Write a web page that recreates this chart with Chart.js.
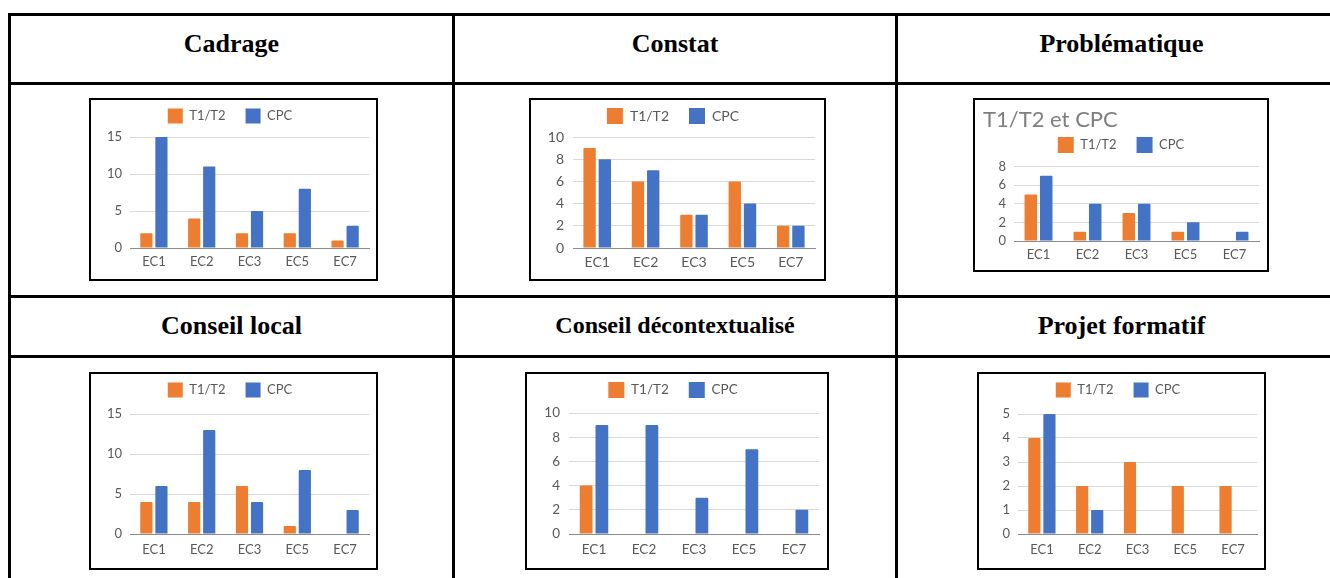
<!DOCTYPE html>
<html>
<head>
<meta charset="utf-8">
<script src="https://cdn.jsdelivr.net/npm/chart.js@4/dist/chart.umd.min.js"></script>
<style>
body{margin:0;background:#fff;width:1330px;height:578px;overflow:hidden;position:relative;font-family:"Liberation Serif",serif}
.ln{position:absolute;background:#000}
.hd{position:absolute;text-align:center;font-weight:bold;font-size:26px;line-height:30px;color:#000}
.box{position:absolute;border:2px solid #000}
.box canvas{display:block}
</style>
</head>
<body>
<!-- table lines -->
<div class="ln" style="left:8px;top:13px;width:3px;height:600px"></div>
<div class="ln" style="left:452px;top:13px;width:3px;height:600px"></div>
<div class="ln" style="left:895px;top:13px;width:3px;height:600px"></div>
<div class="ln" style="left:8px;top:13px;width:1340px;height:3px"></div>
<div class="ln" style="left:8px;top:82px;width:1340px;height:3px"></div>
<div class="ln" style="left:8px;top:295px;width:1340px;height:3px"></div>
<div class="ln" style="left:8px;top:355px;width:1340px;height:3px"></div>

<div class="hd" id="h0" style="left:11px;width:441px;top:29px"></div>
<div class="hd" id="h1" style="left:455px;width:440px;top:29px"></div>
<div class="hd" id="h2" style="left:898px;width:447px;top:29px"></div>
<div class="hd" id="h3" style="left:11px;width:441px;top:311px"></div>
<div class="hd" id="h4" style="left:455px;width:440px;top:310px;font-size:24px"></div>
<div class="hd" id="h5" style="left:898px;width:447px;top:311px"></div>

<div class="box" style="left:89px;top:98px"><canvas id="c0" width="285" height="179"></canvas></div>
<div class="box" style="left:529px;top:98px"><canvas id="c1" width="293" height="179"></canvas></div>
<div class="box" style="left:973px;top:98px"><canvas id="c2" width="292" height="170"></canvas></div>
<div class="box" style="left:89px;top:372px"><canvas id="c3" width="285" height="194"></canvas></div>
<div class="box" style="left:525px;top:372px"><canvas id="c4" width="300" height="194"></canvas></div>
<div class="box" style="left:977px;top:372px"><canvas id="c5" width="285" height="194"></canvas></div>

<script>
var categories = ['EC1', 'EC2', 'EC3', 'EC5', 'EC7'];
var seriesLabels = ['T1/T2', 'CPC'];
var headers = ['Cadrage', 'Constat', 'Problématique', 'Conseil local', 'Conseil décontextualisé', 'Projet formatif'];

var cadrageT12 = [2, 4, 2, 2, 1];
var cadrageCPC = [15, 11, 5, 8, 3];
var constatT12 = [9, 6, 3, 6, 2];
var constatCPC = [8, 7, 3, 4, 2];
var problemT12 = [5, 1, 3, 1, 0];
var problemCPC = [7, 4, 4, 2, 1];
var localT12 = [4, 4, 6, 1, 0];
var localCPC = [6, 13, 4, 8, 3];
var decontT12 = [4, 0, 0, 0, 0];
var decontCPC = [9, 9, 3, 7, 2];
var projetT12 = [4, 2, 3, 2, 2];
var projetCPC = [5, 1, 0, 0, 0];

var yMaxes = [15, 10, 8, 15, 10, 5];
var ySteps = [5, 2, 2, 5, 2, 1];
var problemTitle = 'T1/T2 et CPC';

var orange = '#ED7D31';
var blue = '#4472C4';
var grey = '#595959';

for (var i = 0; i < headers.length; i++) {
   document.getElementById('h' + i).textContent = headers[i];
}

// layout of each chart inside its canvas (pixels)
var layouts = [
   {yW: 39, padL: 0, padR: 7, top: 37, xH: 31, legC: 16, fs: 13, box: 15, xPad: 6.5, yPad: 8},
   {yW: 42, padL: 0, padR: 9, top: 37, xH: 31, legC: 16, fs: 14, box: 16, xPad: 6.5, yPad: 9},
   {yW: 31, padL: 8, padR: 8, top: 66, xH: 29, legC: 45, fs: 13, box: 16, xPad: 6, yPad: 8, title: true},
   {yW: 39, padL: 0, padR: 7, top: 40, xH: 34, legC: 16, fs: 13, box: 15, xPad: 8.5, yPad: 8},
   {yW: 42, padL: 0, padR: 8, top: 39, xH: 34, legC: 16, fs: 13.5, box: 16, xPad: 8, yPad: 9},
   {yW: 39, padL: 0, padR: 7, top: 40, xH: 34, legC: 16, fs: 13, box: 15, xPad: 8.5, yPad: 8}
];

var seriesData = [
   [cadrageT12, cadrageCPC],
   [constatT12, constatCPC],
   [problemT12, problemCPC],
   [localT12, localCPC],
   [decontT12, decontCPC],
   [projetT12, projetCPC]
];

function makeChart(idx) {
   var L = layouts[idx];
   var titleH = L.title ? 36 : 0;
   var font = {family: 'Lato', size: L.fs};
   var fixBoxes = {
      id: 'fixBoxes',
      beforeInit: function (chart) {
         var lg = chart.legend;
         var f = lg.fit;
         lg.fit = function () {
            f.call(lg);
            lg.height = L.top - titleH;
            if (lg._minSize) lg._minSize.height = lg.height;
         };
      },
      afterLayout: function (chart) {
         // move the legend row to where the original has it
         var lg = chart.legend;
         var t = L.legC - 20 - L.box / 2;
         lg.top = t;
         lg.bottom = t + 50;
      }
   };
   return new Chart(document.getElementById('c' + idx), {
      type: 'bar',
      data: {
         labels: categories,
         datasets: [
            {label: seriesLabels[0], data: seriesData[idx][0], backgroundColor: orange},
            {label: seriesLabels[1], data: seriesData[idx][1], backgroundColor: blue}
         ]
      },
      options: {
         responsive: false,
         animation: false,
         devicePixelRatio: 1,
         layout: {padding: {left: L.padL, right: L.padR, top: 0, bottom: 0}},
         datasets: {bar: {categoryPercentage: 0.63, barPercentage: 0.81, borderRadius: 1}},
         scales: {
            x: {
               grid: {display: false, drawTicks: false},
               border: {color: '#8c8c8c', width: 1},
               ticks: {color: grey, font: font, padding: L.xPad, maxRotation: 0},
               afterFit: function (s) { s.height = L.xH; }
            },
            y: {
               min: 0,
               max: yMaxes[idx],
               ticks: {stepSize: ySteps[idx], color: grey, font: font, padding: L.yPad},
               grid: {
                  drawTicks: false,
                  color: function (c) { return c.tick && c.tick.value === 0 ? 'rgba(0,0,0,0)' : '#d9d9d9'; }
               },
               border: {display: false},
               afterFit: function (s) { s.width = L.yW; }
            }
         },
         plugins: {
            legend: {
               labels: {boxWidth: L.box, boxHeight: L.box, padding: 20, color: grey, font: font}
            },
            title: {
               display: !!L.title,
               text: problemTitle,
               align: 'start',
               color: '#7f7f7f',
               font: {family: 'Lato', size: 22, weight: 'normal'},
               padding: {top: 7, bottom: 3}
            },
            tooltip: {enabled: false}
         }
      },
      plugins: [fixBoxes]
   });
}

for (var k = 0; k < 6; k++) {
   makeChart(k);
}
</script>
</body>
</html>
